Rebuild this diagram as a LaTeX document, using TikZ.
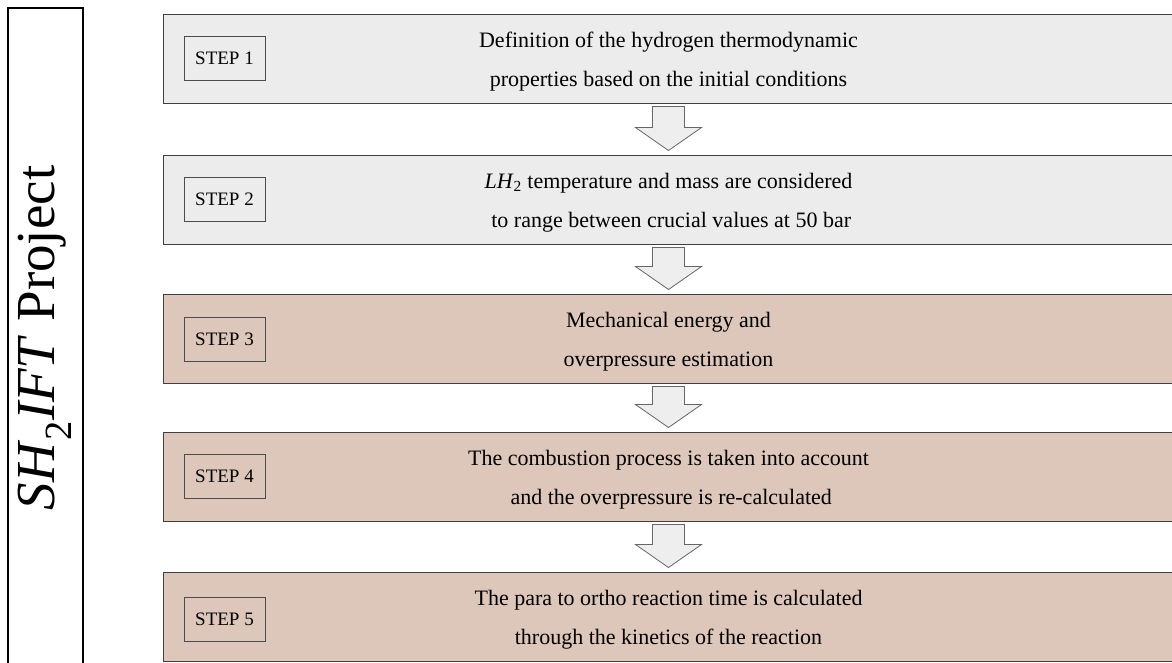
\documentclass[tikz,border=0pt]{standalone}
\usepackage{fontspec}
\setmainfont{Liberation Serif}
\usetikzlibrary{calc}
\definecolor{greybg}{HTML}{ECECEC}
\definecolor{brownbg}{HTML}{DDC7BA}
\definecolor{arrowbg}{HTML}{EEEEEE}
\tikzset{
  panel/.style={draw=black!75, line width=1pt, minimum width=1011pt, minimum height=89pt,
    inner sep=0pt, align=center, font=\fontsize{22}{39}\selectfont},
  greypanel/.style={panel, fill=greybg},
  brownpanel/.style={panel, fill=brownbg},
  steplabel/.style={draw=black!70, line width=0.8pt, minimum width=81pt, minimum height=44pt,
    inner sep=0pt, font=\fontsize{19}{19}\selectfont},
  blockarr/.style={draw=black!60, line width=0.8pt, fill=arrowbg, line join=miter},
  titlebox/.style={draw=black, line width=1.6pt, fill=white, minimum width=75pt, minimum height=662pt, inner sep=0pt},
  txt/.style={align=center, font=\fontsize{22}{39}\selectfont, inner sep=0pt}
}
\newcommand\blockarrow[2]{%
  \draw[blockarr] ($(#1.south)+(-16,3)$) -- ($(#1.south)+(16,3)$) -- ($(#2.north)+(16,-27)$)
    -- ($(#2.north)+(33,-27)$) -- ($(#2.north)+(0,-4)$) -- ($(#2.north)+(-33,-27)$)
    -- ($(#2.north)+(-16,-27)$) -- cycle;}
\begin{document}
\begin{tikzpicture}[x=1pt,y=-1pt]
\useasboundingbox (0,0) rectangle (1172,662);
\clip (0,0) rectangle (1172,662);
\node[titlebox] (title) at (45.5,339) {};
\node[rotate=90, font=\fontsize{55}{55}\selectfont] (tt) at (45,338) {\textit{SH}\textsubscript{2}\textit{IFT} Project};

\node[greypanel] (b1) at (668.5,58.5) {};
\node[greypanel] (b2) at (668.5,199.5) {};
\node[brownpanel] (b3) at (668.5,338.5) {};
\node[brownpanel] (b4) at (668.5,476.5) {};
\node[brownpanel] (b5) at (668.5,616.5) {};

\node[txt] (t1) at ($(b1.center)+(0,3)$) {Definition of the hydrogen thermodynamic\\properties based on the initial conditions};
\node[txt] (t2) at ($(b2.center)+(0,3)$) {\textit{LH}\textsubscript{2} temperature and mass are considered\\\ to range between crucial values at 50 bar};
\node[txt] (t3) at ($(b3.center)+(0,3)$) {Mechanical energy and\\overpressure estimation};
\node[txt] (t4) at ($(b4.center)+(0,3)$) {The combustion process is taken into account\\\ and the overpressure is re-calculated};
\node[txt] (t5) at ($(b5.center)+(0,3)$) {The para to ortho reaction time is calculated\\through the kinetics of the reaction};

\node[steplabel] (s1) at (224.5,58) {STEP 1};
\node[steplabel] (s2) at (224.5,199) {STEP 2};
\node[steplabel] (s3) at (224.5,339) {STEP 3};
\node[steplabel] (s4) at (224.5,476) {STEP 4};
\node[steplabel] (s5) at (224.5,619) {STEP 5};

\blockarrow{b1}{b2}
\blockarrow{b2}{b3}
\blockarrow{b3}{b4}
\blockarrow{b4}{b5}
\end{tikzpicture}
\end{document}
